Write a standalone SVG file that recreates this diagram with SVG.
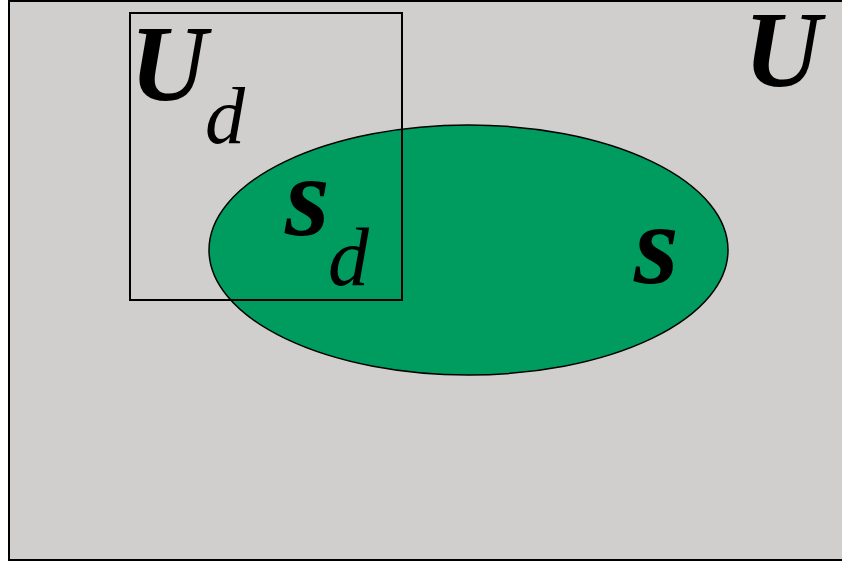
<svg xmlns="http://www.w3.org/2000/svg" width="842" height="561" viewBox="0 0 842 561">
<style>
.bi{font-family:"Liberation Serif","Times New Roman",serif;font-style:italic;font-weight:bold;fill:#000}
.it{font-family:"Liberation Serif","Times New Roman",serif;font-style:italic;font-weight:normal;fill:#000}
.ln{fill:none;stroke:#000;stroke-width:2}
</style>
<g id="universe">
<path d="M842,1 H9 V560 H842" fill="#d0cfcd" stroke="#000" stroke-width="2"/>
</g>
<g id="label-U">
<text class="bi" x="744" y="86" font-size="107">U</text>
</g>
<g id="set-s">
<ellipse cx="468.5" cy="250" rx="259.5" ry="125" fill="#009c5f" stroke="#000" stroke-width="1.5"/>
<text class="bi" x="634" y="283" font-size="115">s</text>
</g>
<g id="set-Ud">
<rect x="130" y="13" width="272" height="287" class="ln"/>
<text class="bi" x="130" y="100" font-size="107">U</text>
<text class="it" x="205" y="143" font-size="80">d</text>
<text class="bi" x="285" y="235" font-size="115">s</text>
<text class="it" x="328" y="285" font-size="82">d</text>
</g>
</svg>
